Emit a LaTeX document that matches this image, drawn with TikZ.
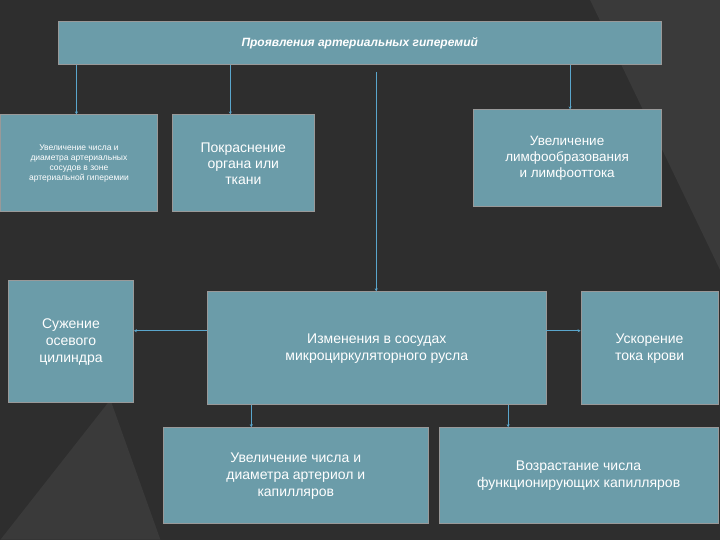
\documentclass[tikz,border=0pt]{standalone}
\usepackage{fontspec}
\setmainfont{Liberation Sans}
\usetikzlibrary{arrows.meta}
\definecolor{bg}{HTML}{2E2E2E}
\definecolor{bg2}{HTML}{3A3A3A}
\definecolor{boxc}{HTML}{6B9CA9}
\definecolor{linec}{HTML}{5AA6CC}
\begin{document}
\begin{tikzpicture}[x=1pt,y=-1pt,
 bx/.style={draw=black!40,line width=1pt,fill=boxc,text=white,align=center,inner sep=2pt},
 con/.style={draw=linec,line width=0.9pt,-{Stealth[length=3pt,width=3pt]}}]
\fill[bg] (0,0) rectangle (720,540);
\fill[bg2] (590,0) -- (720,0) -- (720,270) -- cycle;
\fill[bg2] (0,540) -- (110,400) -- (160,540) -- cycle;
\node[bx,minimum width=603,minimum height=43,font=\bfseries\itshape\fontsize{12}{14}\selectfont] (top) at (359.5,43.5) {Проявления артериальных гиперемий};
\node[bx,minimum width=157,minimum height=97,font=\fontsize{8.5}{10}\selectfont] (a) at (78.5,163.5) {Увеличение числа и\\диаметра артериальных\\сосудов в зоне\\артериальной гиперемии};
\node[bx,minimum width=142,minimum height=97,font=\fontsize{14}{16}\selectfont] (b) at (243,163.5) {Покраснение\\органа или\\ткани};
\node[bx,minimum width=188,minimum height=97,font=\fontsize{13.5}{16}\selectfont] (c) at (567,158.5) {Увеличение\\лимфообразования\\и лимфооттока};
\node[bx,minimum width=125,minimum height=122,font=\fontsize{14}{17}\selectfont] (d) at (70.5,342) {Сужение\\осевого\\цилиндра};
\node[bx,minimum width=339,minimum height=113,font=\fontsize{14}{17}\selectfont] (e) at (376.5,348.5) {Изменения в сосудах\\микроциркуляторного русла};
\node[bx,minimum width=137,minimum height=113,font=\fontsize{14}{17}\selectfont] (f) at (649.5,348.5) {Ускорение\\тока крови};
\node[bx,minimum width=265,minimum height=96,font=\fontsize{14}{17}\selectfont] (g) at (295.5,476) {Увеличение числа и\\диаметра артериол и\\капилляров};
\node[bx,minimum width=279,minimum height=96,font=\fontsize{14}{17}\selectfont] (h) at (578.5,476) {Возрастание числа\\функционирующих капилляров};
\coordinate (t1) at (76,65); \coordinate (t2) at (230,65); \coordinate (t3) at (376,72); \coordinate (t4) at (570,65);
\draw[con] (t1) -- (t1 |- a.north);
\draw[con] (t2) -- (t2 |- b.north);
\draw[con] (t3) -- (t3 |- e.north);
\draw[con] (t4) -- (t4 |- c.north);
\coordinate (e1) at (207,331); \coordinate (e2) at (546,331);
\draw[con] (e1) -- (e1 -| d.east);
\draw[con] (e2) -- (e2 -| f.west);
\coordinate (e3) at (251,405); \coordinate (e4) at (508,405);
\draw[con] (e3) -- (e3 |- g.north);
\draw[con] (e4) -- (e4 |- h.north);
\end{tikzpicture}
\end{document}
